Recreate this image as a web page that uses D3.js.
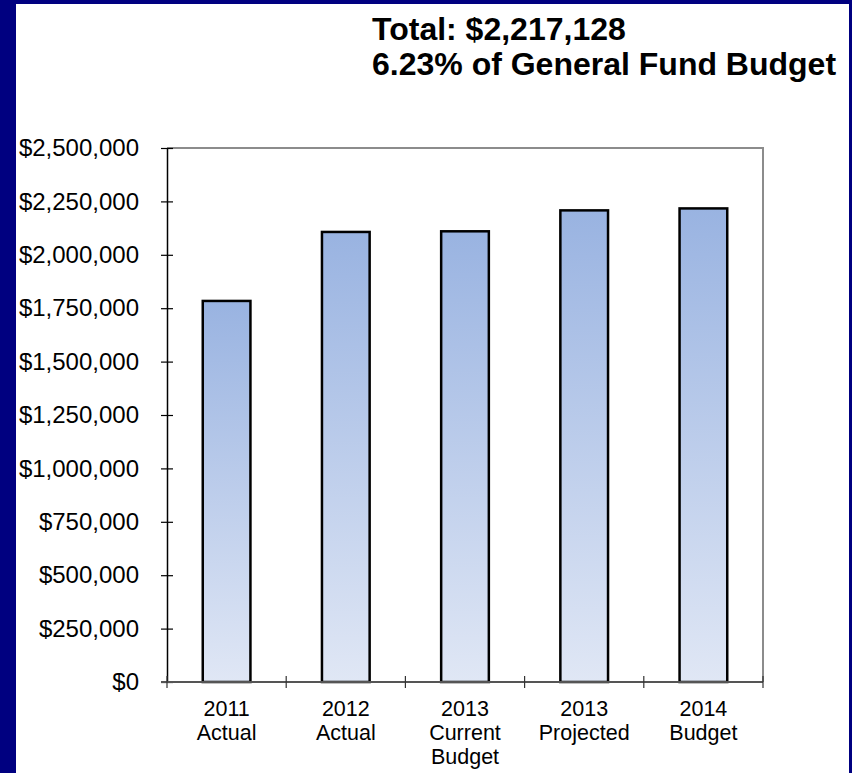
<!DOCTYPE html>
<html>
<head>
<meta charset="utf-8">
<script src="https://cdn.jsdelivr.net/npm/d3@7"></script>
<style>
  html, body { margin: 0; padding: 0; background: #fff; }
  svg { display: block; }
</style>
</head>
<body>
<script>
// Category labels (multi-line) and spending totals
const categories = ["2011 Actual", "2012 Actual", "2013 Current Budget", "2013 Projected", "2014 Budget"];
const categoryLines = [["2011", "Actual"], ["2012", "Actual"], ["2013", "Current", "Budget"], ["2013", "Projected"], ["2014", "Budget"]];
const values = [1784000, 2107000, 2110000, 2208000, 2217128];
const yTicks = [0, 250000, 500000, 750000, 1000000, 1250000, 1500000, 1750000, 2000000, 2250000, 2500000];
const titleLines = ["Total: $2,217,128", "6.23% of General Fund Budget"];

const W = 852, H = 773;
const plot = { left: 167, right: 763, top: 148, bottom: 682 };

const svg = d3.select("body").append("svg")
  .attr("width", W).attr("height", H)
  .style("font-family", "'Liberation Sans', Arial, sans-serif");

// Page background with navy frame
svg.append("rect").attr("width", W).attr("height", H).attr("fill", "#000080");
svg.append("rect").attr("x", 16).attr("y", 4).attr("width", W - 16 - 3).attr("height", H - 4).attr("fill", "#fff");

// Title
svg.append("g").selectAll("text").data(titleLines).join("text")
  .attr("x", 372).attr("y", (d, i) => 40 + i * 35)
  .attr("font-size", 32).attr("font-weight", "bold").attr("fill", "#000")
  .text(d => d);

const x = d3.scaleBand().domain(categories)
  .range([plot.left, plot.right]).paddingInner(0.6).paddingOuter(0.3);
const y = d3.scaleLinear().domain([0, 2500000]).range([plot.bottom, plot.top]);

// Gradient used by every bar
const defs = svg.append("defs");
const grad = defs.append("linearGradient").attr("id", "barFill")
  .attr("x1", 0).attr("y1", 0).attr("x2", 0).attr("y2", 1);
grad.append("stop").attr("offset", "0%").attr("stop-color", "#99b3e1");
grad.append("stop").attr("offset", "100%").attr("stop-color", "#e0e7f5");

// Plot frame: top and right edges in gray
svg.append("path")
  .attr("d", `M${plot.left},${plot.top}H${plot.right}V${plot.bottom}`)
  .attr("fill", "none").attr("stroke", "#8c8c8c").attr("stroke-width", 2);

// Bars
svg.append("g").selectAll("rect").data(values).join("rect")
  .attr("x", (d, i) => x(categories[i]))
  .attr("y", d => y(d))
  .attr("width", x.bandwidth())
  .attr("height", d => y(0) - y(d))
  .attr("fill", "url(#barFill)")
  .attr("stroke", "#000").attr("stroke-width", 2.5);

// Y axis
const yAxis = svg.append("g").attr("transform", `translate(${plot.left},0)`)
  .call(d3.axisLeft(y).tickValues(yTicks).tickFormat(d3.format("$,")).tickSizeOuter(0).tickSizeInner(6).tickPadding(22));
yAxis.select(".domain").attr("stroke", "#000").attr("stroke-width", 1.5);
yAxis.selectAll(".tick line").attr("x2", 6).attr("x1", -6).attr("stroke", "#000").attr("stroke-width", 1.2);
yAxis.selectAll(".tick text").attr("font-size", 24).attr("fill", "#000")
  .attr("font-family", "'Liberation Sans', Arial, sans-serif");

// X axis baseline with ticks at category boundaries
const xAxisG = svg.append("g");
xAxisG.append("line")
  .attr("x1", plot.left - 6).attr("x2", plot.right)
  .attr("y1", plot.bottom).attr("y2", plot.bottom)
  .attr("stroke", "#555").attr("stroke-width", 2);
const boundaries = d3.range(categories.length + 1).map(i => plot.left + i * x.step());
xAxisG.selectAll("line.tk").data(boundaries).join("line").attr("class", "tk")
  .attr("x1", d => d).attr("x2", d => d)
  .attr("y1", plot.bottom - 6).attr("y2", plot.bottom + 6)
  .attr("stroke", "#333").attr("stroke-width", 1.2);

// Category labels
const lab = svg.append("g").selectAll("text").data(categoryLines).join("text")
  .attr("x", (d, i) => x(categories[i]) + x.bandwidth() / 2)
  .attr("text-anchor", "middle").attr("font-size", 21.5).attr("fill", "#000");
lab.selectAll("tspan").data(d => d).join("tspan")
  .attr("x", function () { return d3.select(this.parentNode).attr("x"); })
  .attr("y", (d, i) => 716 + i * 24)
  .text(d => d);
</script>
</body>
</html>
